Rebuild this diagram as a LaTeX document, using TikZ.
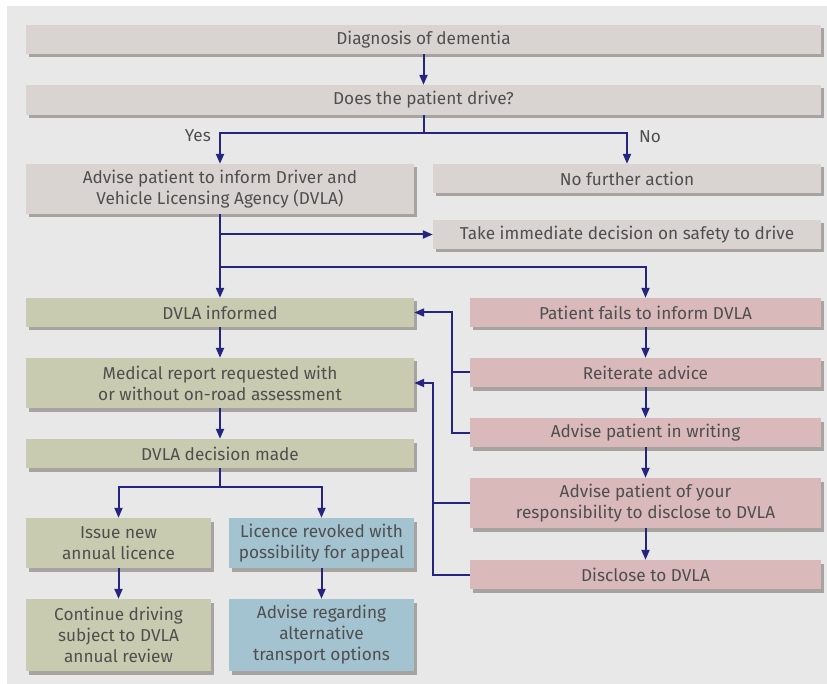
\documentclass[tikz,border=0pt]{standalone}
\usepackage{fontspec}
\setmainfont{Fira Sans}
\usetikzlibrary{arrows.meta,shadows}
\definecolor{panel}{HTML}{E8E8E8}
\definecolor{boxgrey}{HTML}{D9D4D1}
\definecolor{boxgreen}{HTML}{C8CBAF}
\definecolor{boxpink}{HTML}{D9B9BA}
\definecolor{boxblue}{HTML}{A3C3D0}
\definecolor{shade}{HTML}{A6A3A1}
\definecolor{flowblue}{HTML}{25257F}
\definecolor{inktext}{HTML}{4F4F4F}
\tikzset{
  box/.style={inner sep=0pt, align=center, text=inktext,
    font=\fontsize{17.2}{21}\selectfont,
    drop shadow={shadow xshift=3pt, shadow yshift=-3.5pt, fill=shade, opacity=1}},
  greybox/.style={box, fill=boxgrey},
  greenbox/.style={box, fill=boxgreen},
  pinkbox/.style={box, fill=boxpink},
  bluebox/.style={box, fill=boxblue},
  flow/.style={draw=flowblue, line width=2pt, -{Triangle[length=10pt,width=8pt]}},
  link/.style={draw=flowblue, line width=2pt},
  lbl/.style={text=inktext, font=\fontsize{17.2}{21}\selectfont, inner sep=0pt}
}
\begin{document}
\begin{tikzpicture}[x=1pt,y=-1pt]
\useasboundingbox (0,0) rectangle (827,684);
\fill[white] (0,0) rectangle (827,684);
\fill[panel] (7,6) rectangle (827,684);

% top row
\node[greybox, minimum width=795pt, minimum height=29pt] (diag) at (423.5,39.5) {Diagnosis of dementia};
\node[greybox, minimum width=795pt, minimum height=30pt] (drive) at (423.5,100) {Does the patient drive?};
\node[greybox, minimum width=388pt, minimum height=50pt] (advise) at (220,189) {Advise patient to inform Driver and\\Vehicle Licensing Agency (DVLA)};
\node[greybox, minimum width=388pt, minimum height=29pt] (nofurther) at (627,178.5) {No further action};
\node[greybox, minimum width=388pt, minimum height=29pt] (take) at (627,234.5) {Take immediate decision on safety to drive};

% left column
\node[greenbox, minimum width=388pt, minimum height=29pt] (informed) at (220,312.5) {DVLA informed};
\node[greenbox, minimum width=388pt, minimum height=50pt] (medical) at (220,383) {Medical report requested with\\or without on-road assessment};
\node[greenbox, minimum width=388pt, minimum height=29pt] (decision) at (220,453.5) {DVLA decision made};
\node[greenbox, minimum width=185pt, minimum height=50pt] (issue) at (118.5,543) {Issue new\\annual licence};
\node[bluebox, minimum width=185pt, minimum height=50pt] (revoked) at (321.5,543) {Licence revoked with\\possibility for appeal};
\node[greenbox, minimum width=185pt, minimum height=72pt] (continue) at (118.5,635) {Continue driving\\subject to DVLA\\annual review};
\node[bluebox, minimum width=185pt, minimum height=72pt] (transport) at (321.5,635) {Advise regarding\\alternative\\transport options};

% right column
\node[pinkbox, minimum width=351pt, minimum height=29pt] (fails) at (645.5,312.5) {Patient fails to inform DVLA};
\node[pinkbox, minimum width=351pt, minimum height=29pt] (reiterate) at (645.5,372.5) {Reiterate advice};
\node[pinkbox, minimum width=351pt, minimum height=29pt] (writing) at (645.5,432.5) {Advise patient in writing};
\node[pinkbox, minimum width=351pt, minimum height=50pt] (duty) at (645.5,503) {Advise patient of your\\responsibility to disclose to DVLA};
\node[pinkbox, minimum width=351pt, minimum height=29pt] (disclose) at (645.5,574.5) {Disclose to DVLA};

% branch points
\coordinate (split1) at (423.5,133);
\coordinate (split2) at (220,267);
\coordinate (split3) at (220,487);
\coordinate (back1) at (452,0);
\coordinate (back2) at (433,0);

\node[lbl, anchor=east] (yes) at (211,136) {Yes};
\node[lbl, anchor=west] (no) at (639,137) {No};

\draw[flow] (diag) -- (drive);
\draw[link] (drive) -- (split1);
\draw[flow] (split1) -| (advise.north);
\draw[flow] (split1) -| (nofurther.north);
\draw[flow] (advise) -- (informed);
\draw[flow] (advise.south |- take.west) -- (take.west);
\draw[flow] (split2) -| (fails.north);
\draw[flow] (informed) -- (medical);
\draw[flow] (medical) -- (decision);
\draw[link] (decision) -- (split3);
\draw[flow] (split3) -| (issue.north);
\draw[flow] (split3) -| (revoked.north);
\draw[flow] (issue) -- (continue);
\draw[flow] (revoked) -- (transport);

\draw[flow] (fails) -- (reiterate);
\draw[flow] (reiterate) -- (writing);
\draw[flow] (writing) -- (duty);
\draw[flow] (duty) -- (disclose);

% feedback to the left column
\draw[flow] (reiterate.west) -- (reiterate.west -| back1) |- (informed.east);
\draw[link] (writing.west) -- (writing.west -| back1) -- (reiterate.west -| back1);
\draw[flow] (duty.west) -- (duty.west -| back2) |- (medical.east);
\draw[link] (disclose.west) -- (disclose.west -| back2) -- (duty.west -| back2);
\end{tikzpicture}
\end{document}
